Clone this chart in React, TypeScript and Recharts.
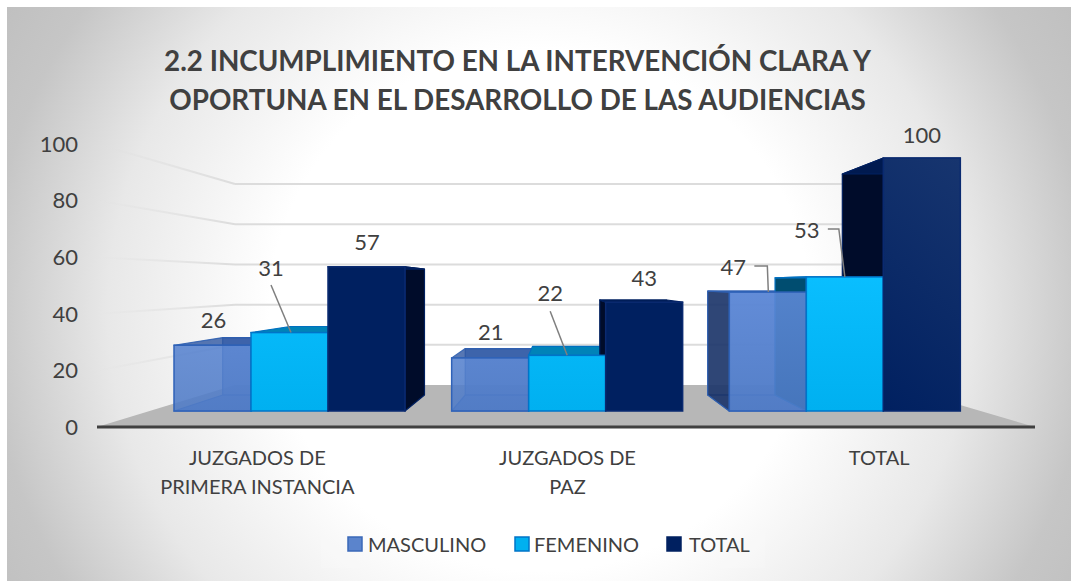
import React from "react";
import { ComposedChart, Bar, XAxis, YAxis, CartesianGrid, Legend, LabelList } from "recharts";

const categories = ["JUZGADOS DE\nPRIMERA INSTANCIA", "JUZGADOS DE\nPAZ", "TOTAL"];
const masculino = [26, 21, 47];
const femenino = [31, 22, 53];
const total = [57, 43, 100];
const yTicks = [0, 20, 40, 60, 80, 100];
const titleLines = ["2.2 INCUMPLIMIENTO EN LA INTERVENCIÓN CLARA Y", "OPORTUNA EN EL DESARROLLO DE LAS AUDIENCIAS"];

const data = categories.map((name, i) => ({
  name,
  MASCULINO: masculino[i],
  FEMENINO: femenino[i],
  TOTAL: total[i],
}));

const FONT = "Lato, 'Open Sans', sans-serif";
const TEXT = "#404040";

// perspective of the 3D box: back plane of a bar relative to its front plane
const VP_X = 559;
const VP_Y = 284.5;
const K = 0.1265;
const bx = (x: number) => x + K * (VP_X - x);
const by = (y: number) => y + K * (VP_Y - y);
const pts = (a: number[][]) => a.map((p) => p.join(",")).join(" ");

type Faces = { back?: string; floor?: string; side: string; top: string; stroke: string };
const FACES: Record<string, Faces> = {
  MASCULINO: {
    back: "rgba(84,125,200,0.75)",
    floor: "rgba(68,114,196,0.7)",
    side: "rgba(20,40,85,0.75)",
    top: "rgba(45,85,160,0.8)",
    stroke: "rgba(47,95,176,0.9)",
  },
  FEMENINO: { side: "#004d70", top: "#0083b8", stroke: "#0070c0" },
  TOTAL: { side: "#000c2a", top: "#001a50", stroke: "#002060" },
};

const backShape = (key: string) => (p: any) => {
  const { x, y, width, height } = p;
  const f = FACES[key];
  const x2 = x + width;
  const yb = y + height;
  const [lb, rb, tb, bb] = [bx(x), bx(x2), by(y), by(yb)];
  return (
    <g strokeWidth={1.2} stroke={f.stroke} strokeLinejoin="round">
      {f.back && <rect x={lb} y={tb} width={rb - lb} height={bb - tb} fill={f.back} />}
      {f.floor && <polygon points={pts([[x, yb], [x2, yb], [rb, bb], [lb, bb]])} fill={f.floor} />}
      {lb < x && <polygon points={pts([[x, y], [lb, tb], [lb, bb], [x, yb]])} fill={f.side} />}
      {rb > x2 && <polygon points={pts([[x2, y], [rb, tb], [rb, bb], [x2, yb]])} fill={f.side} />}
      <polygon points={pts([[x, y], [x2, y], [rb, tb], [lb, tb]])} fill={f.top} />
    </g>
  );
};

const FRONT_STYLE: Record<string, { fill: string; stroke: string }> = {
  MASCULINO: { fill: "url(#gMasc)", stroke: "#2f62b8" },
  FEMENINO: { fill: "url(#gFem)", stroke: "#0074c8" },
  TOTAL: { fill: "url(#gTot)", stroke: "#0a2a70" },
};
const frontShape = (key: string) => (p: any) => {
  const { x, y, width, height } = p;
  const s = FRONT_STYLE[key];
  return <rect x={x} y={y} width={width} height={height} fill={s.fill} stroke={s.stroke} strokeWidth={1.5} />;
};

// data label placement relative to the top centre of each bar
type LabelPlace = { dx: number; dy: number; leader?: number[][] };
const LABEL_PLACE: Record<string, LabelPlace[]> = {
  MASCULINO: [
    { dx: 1, dy: -25.5 },
    { dx: 0.5, dy: -26 },
    { dx: -34.5, dy: -25.5, leader: [[-13.5, -26], [-0.5, -26], [0.5, 0]] },
  ],
  FEMENINO: [
    { dx: -18.5, dy: -65, leader: [[-18.5, -47.5], [1.5, 0]] },
    { dx: -17, dy: -62.5, leader: [[-17, -44], [0, 0]] },
    { dx: -38, dy: -47, leader: [[-17, -48], [-6, -48], [0, 0]] },
  ],
  TOTAL: [
    { dx: 0.5, dy: -25 },
    { dx: 0, dy: -25 },
    { dx: 0, dy: -23.5 },
  ],
};

const labelContent = (key: string) => (p: any) => {
  const place = LABEL_PLACE[key][p.index];
  const cx = p.x + p.width / 2;
  const leader = place.leader;
  return (
    <g>
      {leader && (
        <polyline
          points={pts(leader.map(([a, b]) => [cx + a, p.y + b]))}
          fill="none"
          stroke="#7f7f7f"
          strokeWidth={1.5}
        />
      )}
      <text
        x={cx + place.dx}
        y={p.y + place.dy}
        textAnchor="middle"
        dominantBaseline="central"
        fontFamily={FONT}
        fontSize={22}
        fill={TEXT}
      >
        {p.value}
      </text>
    </g>
  );
};

// wall and floor of the 3D scene
const AXIS_LEFT = 97;
const AXIS_RIGHT = 1035;
const WALL_LEFT = 235;
const WALL_RIGHT = 892;
const WALL_FLOOR = 385;
const WALL_RATIO = 0.71;

const gridLine = (p: any) => {
  const y = p.y1;
  const floorY = 427;
  const wy = WALL_FLOOR - (floorY - y) * WALL_RATIO;
  if (Math.abs(y - floorY) < 1) {
    return (
      <g key="floor">
        <polygon
          points={pts([[AXIS_LEFT, y], [AXIS_RIGHT, y], [WALL_RIGHT, wy], [WALL_LEFT, wy]])}
          fill="#b7b7b7"
        />
        <line x1={AXIS_LEFT} x2={AXIS_RIGHT} y1={y} y2={y} stroke="#404040" strokeWidth={3} />
      </g>
    );
  }
  return (
    <g key={y}>
      <polyline
        points={pts([[AXIS_LEFT, y], [WALL_LEFT, wy]])}
        fill="none"
        stroke="url(#gWall)"
        strokeWidth={2}
      />
      <line x1={WALL_LEFT} x2={WALL_RIGHT} y1={wy} y2={wy} stroke="#dcdcdc" strokeWidth={2} />
    </g>
  );
};

const TICK_DX = [-32.5, 0, 34];
const categoryTick = (p: any) => {
  const lines = String(p.payload.value).split("\n");
  return (
    <text textAnchor="middle" fontFamily={FONT} fontSize={20} fill={TEXT}>
      {lines.map((l, i) => (
        <tspan key={i} x={p.x + TICK_DX[p.index]} y={457 + i * 29} dominantBaseline="central">
          {l}
        </tspan>
      ))}
    </text>
  );
};

const LEGEND_ITEMS = [
  { key: "MASCULINO", fill: "#5b84cc", stroke: "#3a68b8", sx: 347, tx: 368 },
  { key: "FEMENINO", fill: "#00b0f0", stroke: "#0074c8", sx: 514, tx: 534 },
  { key: "TOTAL", fill: "#002060", stroke: "#002060", sx: 666, tx: 689 },
];
const legendContent = () => (
  <svg width={1071} height={45} style={{ display: "block" }}>
    <rect x={321} y={0} width={444} height={45} fill="rgba(255,255,255,0.12)" />
    {LEGEND_ITEMS.map((it) => (
      <g key={it.key}>
        <rect x={it.sx + 1} y={14} width={14} height={14} fill={it.fill} stroke={it.stroke} strokeWidth={1.5} />
        <text x={it.tx} y={21} dominantBaseline="central" fontFamily={FONT} fontSize={20} fill={TEXT}>
          {it.key}
        </text>
      </g>
    ))}
  </svg>
);

const SERIES = ["MASCULINO", "FEMENINO", "TOTAL"];

export default function App() {
  return (
    <div
      style={{
        position: "absolute",
        left: 0,
        top: 0,
        width: 1071,
        height: 581,
        background: "#fff",
        overflow: "hidden",
      }}
    >
      <div
        style={{
          position: "absolute",
          left: 7,
          top: 7,
          right: 0,
          bottom: 0,
          background:
            "radial-gradient(ellipse 600px 580px at 533px 303px, #ffffff 45%, #e8e8e8 72%, #c6c6c6 92%, #bcbcbc 110%)",
        }}
      />
      <div
        style={{
          position: "absolute",
          left: 0,
          width: 1035,
          top: 41,
          textAlign: "center",
          fontFamily: FONT,
          fontWeight: 700,
          fontSize: 27.8,
          lineHeight: "39px",
          color: TEXT,
        }}
      >
        {titleLines.map((t) => (
          <div key={t}>{t}</div>
        ))}
      </div>
      <div style={{ position: "absolute", left: 0, top: 0 }}>
        <ComposedChart
          width={1071}
          height={581}
          data={data}
          margin={{ left: 91, right: 87, top: 144, bottom: 124 }}
          barGap={0}
          barSize={77}
        >
          <defs>
            <linearGradient id="gWall" gradientUnits="userSpaceOnUse" x1={AXIS_LEFT} x2={WALL_LEFT} y1={0} y2={0}>
              <stop offset="0" stopColor="#dcdcdc" stopOpacity={0} />
              <stop offset="1" stopColor="#dcdcdc" stopOpacity={1} />
            </linearGradient>
            <linearGradient id="gTot" gradientUnits="userSpaceOnUse" x1={960} y1={158} x2={800} y2={340}>
              <stop offset="0" stopColor="#17356f" />
              <stop offset="1" stopColor="#002060" />
            </linearGradient>
            <linearGradient id="gFem" gradientUnits="userSpaceOnUse" x1={0} y1={270} x2={0} y2={411}>
              <stop offset="0" stopColor="#0abfff" />
              <stop offset="1" stopColor="#00b0f0" />
            </linearGradient>
            <linearGradient id="gMasc" gradientUnits="userSpaceOnUse" x1={0} y1={290} x2={0} y2={411}>
              <stop offset="0" stopColor="#5f8ad8" stopOpacity={0.88} />
              <stop offset="1" stopColor="#4f7bc6" stopOpacity={0.88} />
            </linearGradient>
          </defs>
          <CartesianGrid yAxisId="left" xAxisId="scale" vertical={false} horizontal={gridLine} syncWithTicks />
          <XAxis
            xAxisId="front"
            dataKey="name"
            axisLine={false}
            tickLine={false}
            interval={0}
            height={30}
            tick={categoryTick}
          />
          <XAxis xAxisId="back" dataKey="name" hide />
          <XAxis xAxisId="scale" dataKey="name" hide />
          <YAxis
            yAxisId="left"
            width={60}
            domain={[0, 100]}
            ticks={yTicks}
            interval={0}
            axisLine={false}
            tickLine={false}
            tickSize={0}
            tickMargin={13}
            tick={{ fontFamily: FONT, fontSize: 22, fill: TEXT }}
          />
          <YAxis yAxisId="bars" hide domain={[-6.32, 105.53]} allowDataOverflow />
          <Bar
            dataKey="TOTAL"
            xAxisId="scale"
            yAxisId="left"
            legendType="none"
            isAnimationActive={false}
            shape={() => null}
          />
          {SERIES.map((s) => (
            <Bar
              key={"b" + s}
              dataKey={s}
              xAxisId="back"
              yAxisId="bars"
              legendType="none"
              isAnimationActive={false}
              shape={backShape(s)}
            />
          ))}
          {SERIES.map((s) => (
            <Bar key={s} dataKey={s} xAxisId="front" yAxisId="bars" isAnimationActive={false} shape={frontShape(s)}>
              <LabelList content={labelContent(s)} />
            </Bar>
          ))}
          <Legend
            verticalAlign="middle"
            align="center"
            layout="horizontal"
            content={legendContent}
            wrapperStyle={{ position: "absolute", left: 0, top: 523, width: 1071 }}
          />
        </ComposedChart>
      </div>
    </div>
  );
}
